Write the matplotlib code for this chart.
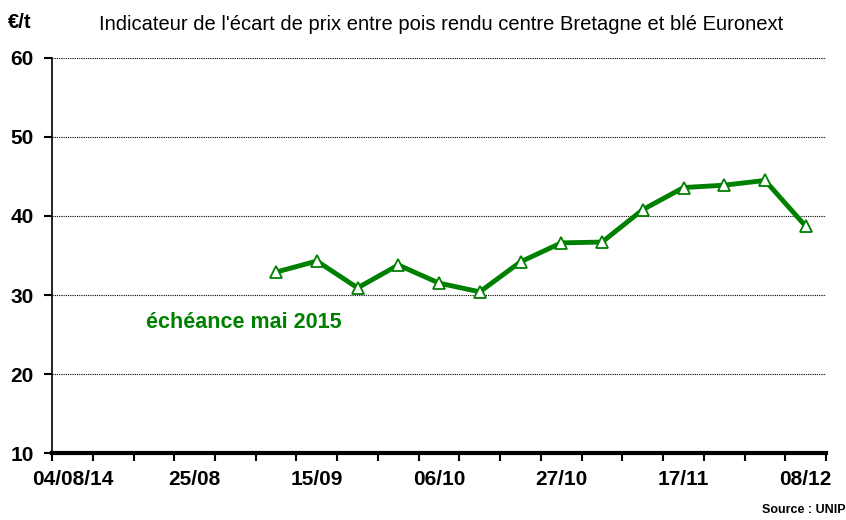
import matplotlib
matplotlib.use("Agg")
import matplotlib.pyplot as plt

# ── Data ──────────────────────────────────────────────────────────────────────
weeks = ["04/08/14", "11/08", "18/08", "25/08", "01/09", "08/09", "15/09",
         "22/09", "29/09", "06/10", "13/10", "20/10", "27/10", "03/11",
         "10/11", "17/11", "24/11", "01/12", "08/12"]
label_weeks = ["04/08/14", "25/08", "15/09", "06/10", "27/10", "17/11", "08/12"]

spread_weeks = ["08/09", "15/09", "22/09", "29/09", "06/10", "13/10", "20/10",
                "27/10", "03/11", "10/11", "17/11", "24/11", "01/12", "08/12"]
spread_values = [32.9, 34.3, 30.9, 33.8, 31.5, 30.4, 34.2,
                 36.6, 36.7, 40.8, 43.6, 43.9, 44.5, 38.7]

GREEN = "#008000"

# ── Figure ────────────────────────────────────────────────────────────────────
fig = plt.figure(figsize=(8.46, 5.2), dpi=100)
ax = fig.add_axes([0.0615, 0.1288, 0.9150, 0.7597])
plt.rcParams["font.family"] = ["Liberation Sans", "DejaVu Sans"]

x = [weeks.index(w) + 0.5 for w in spread_weeks]
ax.plot(x, spread_values, color=GREEN, lw=3.5, solid_joinstyle="round",
        marker="^", ms=8.5, mfc="white", mec=GREEN, mew=1.3, zorder=3)

ax.set_xlim(0, len(weeks))
ax.set_ylim(10, 60)

# y axis
ax.set_yticks([10, 20, 30, 40, 50, 60])
ax.set_yticklabels(["10", "20", "30", "40", "50", "60"],
                   fontsize=15, fontweight="bold", family="Liberation Sans")
ax.yaxis.grid(True, linestyle=(0, (1, 1)), color="black", lw=0.8)
ax.tick_params(axis="y", length=6, width=1.5, pad=7)

# x axis: category axis, ticks between weeks, labels every 3 weeks
ax.set_xticks(range(len(weeks) + 1))
ax.set_xticklabels([])
ax.set_xticks([weeks.index(w) + 0.5 for w in label_weeks], minor=True)
ax.set_xticklabels(label_weeks, minor=True, fontsize=15, fontweight="bold",
                   family="Liberation Sans")
ax.tick_params(axis="x", which="major", length=6, width=1.5)
ax.tick_params(axis="x", which="minor", length=0, pad=12)

for s in ["top", "right"]:
    ax.spines[s].set_visible(False)
ax.spines["bottom"].set_linewidth(3)
ax.spines["left"].set_linewidth(1.2)

# ── Texts ─────────────────────────────────────────────────────────────────────
fig.text(0.009, 0.957, "€/t", fontsize=14.5, fontweight="bold",
         family="Liberation Sans", va="center")
fig.text(0.521, 0.952, "Indicateur de l'écart de prix entre pois rendu centre Bretagne et blé Euronext",
         fontsize=14.5, family="Liberation Sans", ha="center", va="center")
ax.text(2.3, 26.5, "échéance mai 2015", color=GREEN, fontsize=15.5,
        fontweight="bold", family="Liberation Sans", va="center")
fig.text(0.999, 0.02, "Source : UNIP", fontsize=9, fontweight="bold",
         family="Liberation Sans", ha="right", va="center")

fig.savefig("out.png", dpi=100)
